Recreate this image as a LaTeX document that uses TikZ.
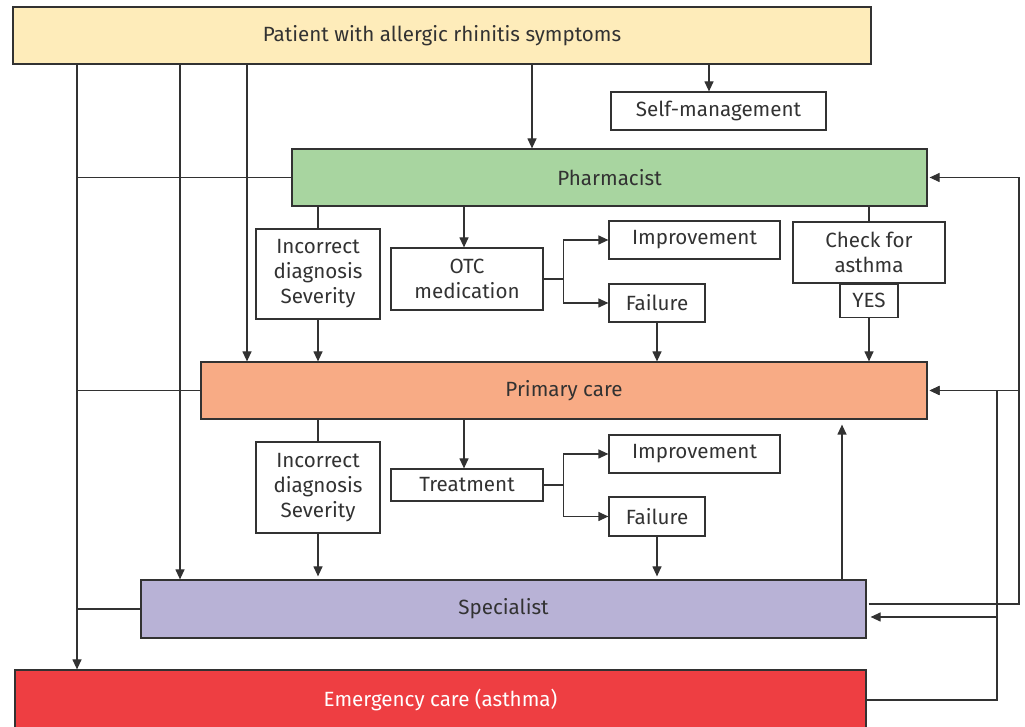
\documentclass[tikz,border=0pt]{standalone}
\usepackage{fontspec}
\setmainfont{Fira Sans}
\usepackage{tikz}
\usetikzlibrary{positioning, arrows.meta}
\definecolor{patientcol}{RGB}{254,236,186}
\definecolor{pharmcol}{RGB}{168,213,160}
\definecolor{primcol}{RGB}{248,171,133}
\definecolor{speccol}{RGB}{184,178,214}
\definecolor{emergcol}{RGB}{238,62,66}
\definecolor{linecol}{RGB}{50,50,50}
\definecolor{textcol}{RGB}{50,50,50}
\tikzset{
x=0.5pt, y=-0.5pt, % one unit is one pixel of the drawing, y runs downwards
box/.style={draw=linecol, line width=0.6pt, inner sep=0pt, align=center, text=textcol,
  font=\fontsize{10.3pt}{12.5pt}\selectfont}, % plain white box
level/.style={box, fill=#1}, % coloured care level bar
link/.style={draw=linecol, line width=0.6pt}, % plain line
arr/.style={link, -{Triangle[length=5pt, width=4.5pt]}}, % line with arrow head
}

\begin{document}
\begin{tikzpicture}
        \useasboundingbox (0,0) rectangle (1025,727);
        % care levels
        \node[level=patientcol, minimum width=429pt, minimum height=28.5pt] (patient) at (442,35.5) {Patient with allergic rhinitis symptoms};
        \node[box, minimum width=107.5pt, minimum height=19pt] (selfman) at (718.5,111) {Self-management};
        \node[level=pharmcol, minimum width=317.5pt, minimum height=28.5pt] (pharm) at (609.5,177.5) {Pharmacist};
        \node[level=primcol, minimum width=363pt, minimum height=28.5pt] (primary) at (564,390.5) {Primary care};
        \node[level=speccol, minimum width=362.5pt, minimum height=29pt] (spec) at (503.5,609) {Specialist};
        \node[level=emergcol, minimum width=425.5pt, minimum height=30pt, text=white] (emerg) at (440.5,700) {Emergency care (asthma)};
        % pharmacist row
        \node[box, minimum width=62pt, minimum height=45pt] (incA) at (318,274) {Incorrect\\diagnosis\\Severity};
        \node[box, minimum width=76pt, minimum height=31pt] (otc) at (467,279) {OTC\\medication};
        \node[box, minimum width=85.5pt, minimum height=19pt] (imprA) at (694.5,240) {Improvement};
        \node[box, minimum width=48pt, minimum height=19pt] (failA) at (657,303) {Failure};
        \node[box, minimum width=76pt, minimum height=30.5pt] (check) at (869,252.5) {Check for\\asthma};
        \node[box, minimum width=29pt, minimum height=16.5pt, anchor=north] (yes) at (check.south) {YES};
        % primary care row
        \node[box, minimum width=62pt, minimum height=45.5pt] (incB) at (318,487.5) {Incorrect\\diagnosis\\Severity};
        \node[box, minimum width=76pt, minimum height=16pt] (treat) at (467,485) {Treatment};
        \node[box, minimum width=85.5pt, minimum height=19pt] (imprB) at (694.5,454) {Improvement};
        \node[box, minimum width=48pt, minimum height=19.5pt] (failB) at (657,516.5) {Failure};
        % columns and turning points
        \coordinate (colA) at (77,0);
        \coordinate (colB) at (180,0);
        \coordinate (colC) at (247,0);
        \coordinate (colS) at (709,0);
        \coordinate (colP) at (532,0);
        \coordinate (colU) at (842,0);
        \coordinate (outA) at (1019,604);
        \coordinate (outB) at (997,617);
        % from the patient
        \draw[arr] (patient.south -| colA) -- (emerg.north -| colA);
        \draw[arr] (patient.south -| colB) -- (spec.north -| colB);
        \draw[arr] (patient.south -| colC) -- (primary.north -| colC);
        \draw[arr] (patient.south -| colS) -- (selfman.north -| colS);
        \draw[arr] (patient.south -| colP) -- (pharm.north -| colP);
        \draw[link] (pharm.west) -- (pharm.west -| colA);
        \draw[link] (primary.west) -- (primary.west -| colA);
        \draw[link] (spec.west) -- (spec.west -| colA);
        % pharmacist
        \draw[link] (incA.north |- pharm.south) -- (incA.north);
        \draw[arr] (incA.south) -- (incA.south |- primary.north);
        \draw[arr] ([xshift=-1.5pt]otc.north |- pharm.south) -- ([xshift=-1.5pt]otc.north);
        \draw[link] (otc.east) -- ++(20,0) coordinate (forkA);
        \draw[arr] (forkA) |- (imprA.west);
        \draw[arr] (forkA) |- (failA.west);
        \draw[arr] (failA.south) -- (failA.south |- primary.north);
        \draw[link] (check.north |- pharm.south) -- (check.north);
        \draw[arr] (yes.south) -- (yes.south |- primary.north);
        % primary care
        \draw[link] (incB.north |- primary.south) -- (incB.north);
        \draw[arr] (incB.south) -- ([yshift=1.5pt]incB.south |- spec.north);
        \draw[arr] ([xshift=-1.5pt]treat.north |- primary.south) -- ([xshift=-1.5pt]treat.north);
        \draw[link] (treat.east) -- ++(20,0) coordinate (forkB);
        \draw[arr] (forkB) |- (imprB.west);
        \draw[arr] (forkB) |- (failB.west);
        \draw[arr] (failB.south) -- ([yshift=1.5pt]failB.south |- spec.north);
        \draw[arr] (spec.north -| colU) -- ([yshift=-2.5pt]primary.south -| colU);
        % back to the care levels on the right
        \draw[arr] ([xshift=1pt]spec.east |- outA) -- (outA) |- ([xshift=1pt]pharm.east);
        \draw[arr] (outA |- primary.east) -- ([xshift=1pt]primary.east);
        \draw[arr] (emerg.east) -| (outB |- primary.east) -- ([xshift=1pt]primary.east);
        \draw[arr] (outB) -- ([xshift=2pt]spec.east |- outB);
\end{tikzpicture}
\end{document}
